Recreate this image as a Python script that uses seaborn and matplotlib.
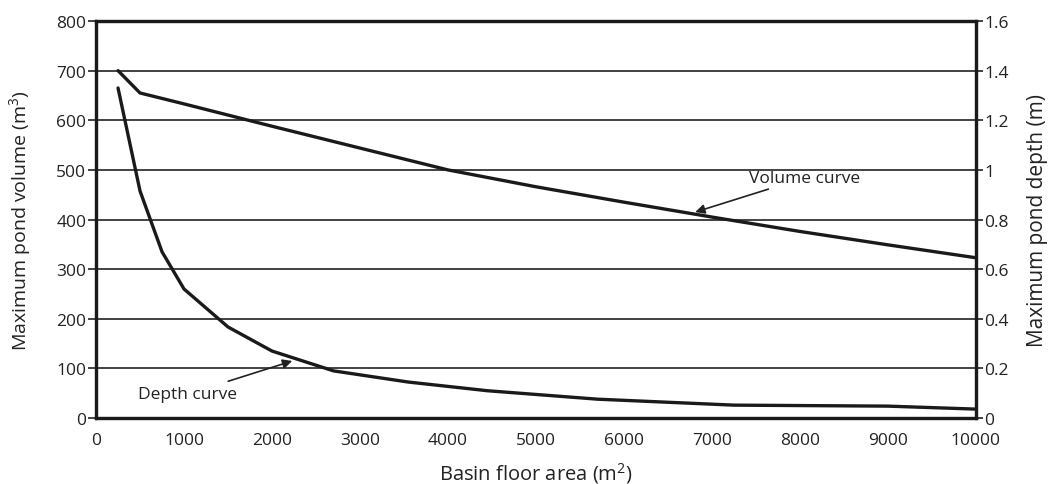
import pandas as pd
import matplotlib
matplotlib.use("Agg")
import matplotlib.pyplot as plt
import seaborn as sns

# values
volume_area = [250, 500, 1000, 2000, 3000, 4000, 5000, 6000, 7000, 8000, 9000, 10000]
volume_m3 = [700, 655, 633, 588, 544, 500, 466, 435, 405, 376, 349, 323]

depth_area = [250, 500, 750, 1000, 1500, 2000, 2700, 3550, 4450, 5700, 7250, 9000, 10000]
depth_m = [1.33, 0.915, 0.67, 0.52, 0.367, 0.27, 0.19, 0.145, 0.11, 0.076, 0.052, 0.048, 0.036]

x_ticks = list(range(0, 10001, 1000))
left_ticks = list(range(0, 801, 100))
right_ticks = [0, 0.2, 0.4, 0.6, 0.8, 1, 1.2, 1.4, 1.6]
right_labels = ["0", "0.2", "0.4", "0.6", "0.8", "1", "1.2", "1.4", "1.6"]

vol_df = pd.DataFrame({"area": volume_area, "volume": volume_m3})
dep_df = pd.DataFrame({"area": depth_area, "depth": depth_m})

sns.set_style("white")
plt.rcParams["font.family"] = ["Open Sans", "DejaVu Sans"]
plt.rcParams["mathtext.default"] = "regular"

fig = plt.figure(figsize=(10.6, 4.85), dpi=100)
ax = fig.add_axes([0.0906, 0.136, 0.830, 0.8186])
ax2 = ax.twinx()

# horizontal grid lines
for v in left_ticks[1:-1]:
    ax.axhline(v, color="#222222", lw=1.2, zorder=1)

sns.lineplot(data=vol_df, x="area", y="volume", ax=ax, color="#1a1a1a", lw=2.4, zorder=3)
sns.lineplot(data=dep_df, x="area", y="depth", ax=ax2, color="#1a1a1a", lw=2.4, zorder=3)

ax.set_xlim(0, 10000)
ax.set_ylim(0, 800)
ax2.set_ylim(0, 1.6)
ax.set_xticks(x_ticks)
ax.set_xticklabels([str(t) for t in x_ticks])
ax.set_yticks(left_ticks)
ax2.set_yticks(right_ticks)
ax2.set_yticklabels(right_labels)

ax.set_xlabel("Basin floor area (m$^2$)", fontsize=14.5, color="#222222", labelpad=9)
ax.set_ylabel("Maximum pond volume (m$^3$)", fontsize=14, color="#222222", labelpad=17)
ax2.set_ylabel("Maximum pond depth (m)", fontsize=15, color="#222222", labelpad=13)

for a in (ax, ax2):
    a.tick_params(axis="both", which="both", direction="out", length=5, width=1.2,
                  colors="#222222", labelsize=12.5, pad=1)
    for s in ["left", "right", "bottom", "top"]:
        a.spines[s].set_linewidth(2.3)
        a.spines[s].set_color("#1a1a1a")
ax.tick_params(axis="x", length=7, pad=3)
ax.tick_params(axis="y", length=6)

# annotations
ax.annotate("Volume curve", xy=(6810, 415), xytext=(7420, 484),
            fontsize=12.5, color="#222222", va="center", ha="left",
            arrowprops=dict(arrowstyle="-|>", color="#222222", lw=1.2,
                            mutation_scale=14, shrinkA=0, shrinkB=0))
ax.annotate("Depth curve", xy=(2230, 115), xytext=(1600, 48),
            fontsize=12.5, color="#222222", va="center", ha="right",
            arrowprops=dict(arrowstyle="-|>", color="#222222", lw=1.2,
                            mutation_scale=14, shrinkA=4, shrinkB=0))

fig.savefig("out.png", dpi=100)
